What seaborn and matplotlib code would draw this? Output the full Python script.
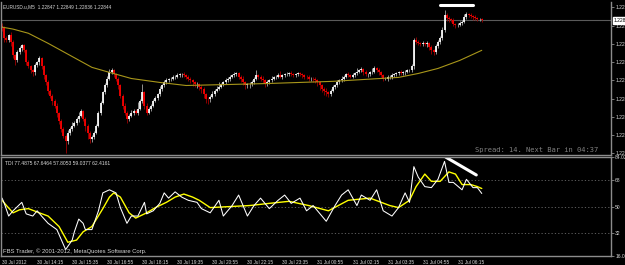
import matplotlib
matplotlib.use("Agg")
import matplotlib.pyplot as plt
import matplotlib.transforms as mtransforms
import numpy as np
import pandas as pd
import seaborn as sns

# ---------------- data (price in points above 1.22000) ----------------
price_base = 1.22
first_open_pts = 820
closes_pts = [
    808, 762, 753, 776, 744, 684, 661, 698, 716, 730,
    707, 652, 633, 615, 606, 638, 652, 670, 633, 592,
    560, 523, 500, 477, 454, 422, 385, 348, 316, 293,
    330, 348, 362, 376, 394, 408, 431, 394, 362, 330,
    302, 311, 330, 362, 422, 468, 514, 546, 578, 606,
    615, 597, 578, 546, 500, 454, 422, 394, 408, 422,
    431, 422, 440, 477, 514, 454, 422, 440, 454, 477,
    491, 505, 532, 546, 560, 569, 574, 578, 583, 587,
    592, 597, 597, 592, 587, 578, 569, 560, 551, 551,
    541, 532, 505, 486, 482, 495, 509, 523, 532, 541,
    551, 560, 569, 578, 587, 592, 597, 601, 587, 578,
    560, 546, 551, 555, 560, 578, 592, 587, 578, 569,
    555, 560, 569, 578, 583, 587, 592, 587, 592, 597,
    597, 601, 597, 592, 597, 601, 597, 592, 587, 583,
    578, 578, 574, 569, 560, 546, 532, 523, 514, 509,
    523, 537, 546, 560, 569, 578, 587, 597, 592, 587,
    592, 601, 610, 615, 620, 606, 597, 597, 606, 610,
    624, 615, 606, 592, 578, 578, 583, 587, 592, 597,
    601, 606, 601, 606, 610, 615, 615, 633, 753, 744,
    739, 735, 739, 735, 739, 721, 707, 698, 725, 744,
    762, 799, 868, 854, 849, 845, 826, 822, 822, 831,
    836, 859, 872, 868, 863, 859, 854, 849, 849, 845,
]
upper_wick_pts = [
    10, 8, 12, 6, 14, 8, 5, 12, 10, 6,
    8, 6, 10, 5, 8, 12, 6, 9, 5, 7,
    6, 9, 5, 8, 6, 10, 5, 7, 9, 6,
    12, 8, 15, 6, 10, 18, 8, 5, 9, 7,
    6, 8, 10, 7, 9, 6, 8, 12, 10, 14,
    10, 8, 6, 9, 5, 7, 10, 6, 8, 12,
    6, 9, 30, 8, 40, 6, 10, 8, 7, 9,
    8, 6, 10, 7, 9, 12, 6, 8, 10, 7,
    9, 6, 8, 12, 7, 5, 9, 6, 8, 10,
    6, 8, 5, 7, 9, 6, 10, 8, 12, 20,
    8, 6, 10, 7, 9, 5, 12, 8, 6, 7,
    10, 6, 8, 5, 9, 7, 25, 8, 6, 10,
    7, 9, 6, 10, 8, 5, 12, 20, 8, 6,
    9, 7, 10, 6, 8, 5, 9, 7, 6, 8,
    10, 6, 8, 9, 5, 7, 6, 8, 10, 6,
    8, 10, 6, 9, 7, 12, 8, 6, 10, 7,
    9, 6, 15, 8, 10, 7, 9, 6, 8, 18,
    10, 7, 9, 6, 8, 5, 10, 7, 9, 6,
    8, 6, 10, 7, 9, 5, 8, 12, 10, 15,
    12, 8, 10, 6, 9, 7, 8, 6, 10, 12,
    10, 15, 23, 8, 10, 6, 9, 7, 8, 10,
    8, 12, 10, 6, 9, 7, 8, 6, 5, 4,
]
lower_wick_pts = [
    12, 15, 8, 10, 18, 12, 20, 8, 10, 12,
    10, 14, 8, 12, 15, 10, 8, 12, 10, 14,
    12, 15, 10, 18, 12, 20, 14, 16, 12, 55,
    15, 10, 12, 8, 10, 14, 8, 12, 25, 30,
    20, 15, 10, 8, 6, 10, 8, 6, 9, 7,
    8, 10, 12, 15, 10, 14, 12, 20, 10, 8,
    12, 8, 10, 6, 9, 14, 10, 8, 12, 6,
    8, 10, 6, 9, 7, 8, 6, 9, 7, 8,
    6, 8, 10, 7, 9, 12, 10, 15, 12, 18,
    14, 20, 16, 18, 22, 10, 8, 9, 7, 6,
    8, 6, 9, 7, 10, 8, 6, 9, 12, 15,
    14, 18, 12, 15, 10, 8, 6, 9, 12, 10,
    14, 10, 8, 6, 9, 7, 8, 6, 9, 7,
    6, 8, 7, 9, 6, 8, 7, 10, 12, 9,
    10, 12, 14, 10, 15, 20, 18, 22, 16, 14,
    10, 8, 9, 7, 6, 8, 10, 7, 9, 8,
    7, 9, 6, 8, 7, 10, 8, 12, 9, 7,
    8, 6, 10, 9, 12, 8, 10, 7, 9, 6,
    8, 6, 9, 7, 10, 8, 6, 8, 12, 10,
    8, 10, 7, 9, 12, 14, 16, 12, 8, 6,
    8, 6, 10, 12, 14, 9, 10, 12, 8, 6,
    7, 6, 9, 8, 10, 12, 9, 8, 6, 7,
]
ma_idx = [0, 5, 12, 21, 31, 41, 49, 59, 72, 84, 105, 121, 136, 151, 166, 181, 190, 199, 209, 219]
ma_pts = [813, 804, 785, 739, 684, 629, 606, 578, 560, 546, 551, 555, 560, 565, 574, 583, 601, 624, 661, 707]

tdi_white_idx = [0, 1, 3, 5, 9, 11, 14, 16, 18, 21, 25, 29, 32, 33, 35, 37, 38, 41, 44, 46,
                 49, 52, 54, 57, 59, 62, 65, 66, 69, 72, 74, 76, 79, 82, 85, 89, 91, 95, 99, 101,
                 105, 108, 112, 115, 118, 122, 126, 129, 132, 136, 139, 142, 146, 148, 152, 155, 158, 162, 164, 168,
                 171, 174, 178, 181, 184, 186, 188, 190, 193, 196, 199, 202, 204, 206, 210, 212, 215, 217, 219]
tdi_white = [55.8, 52.2, 43.5, 47.1, 52.9, 45.0, 43.5, 47.1, 43.5, 38.5, 34.2, 20.5, 27.0, 32.7, 41.4, 38.5, 34.2, 34.2, 47.1, 59.4,
             61.5, 59.4, 49.3, 38.5, 43.5, 43.5, 52.9, 45.0, 47.1, 52.2, 59.4, 55.8, 60.1, 56.5, 54.3, 52.9, 48.6, 45.7, 54.3, 43.5,
             50.7, 57.9, 43.5, 50.7, 55.8, 48.6, 54.3, 57.9, 52.2, 55.8, 47.1, 50.7, 43.5, 39.9, 50.7, 57.9, 61.5, 50.7, 57.9, 54.3,
             61.5, 47.1, 43.5, 49.3, 59.4, 52.9, 77.4, 70.2, 63.7, 63.0, 68.7, 81.0, 66.6, 66.6, 61.5, 68.7, 63.0, 63.0, 59.0]
tdi_yellow_idx = [0, 2, 5, 8, 12, 17, 21, 26, 30, 34, 37, 41, 46, 49, 51, 54, 58, 61, 66, 70,
                  75, 79, 83, 87, 90, 95, 104, 113, 122, 131, 140, 149, 158, 168, 177, 181, 186, 189, 193, 196,
                  200, 204, 207, 210, 214, 217, 219]
tdi_yellow = [54.3, 50.7, 45.7, 47.8, 48.6, 45.7, 43.5, 36.3, 25.5, 27.0, 32.7, 36.3, 48.6, 56.5, 59.4, 56.5, 45.7, 42.1, 45.7, 49.3,
              52.9, 56.5, 58.6, 56.5, 54.3, 49.3, 50.0, 50.7, 52.2, 53.6, 50.7, 47.1, 54.3, 55.8, 50.7, 49.3, 54.3, 63.7, 72.3, 67.3,
              67.3, 73.8, 72.3, 65.1, 65.1, 63.7, 62.4]

price_trend_idx = [200, 215]
price_trend = [1.22914, 1.22914]
tdi_trend_idx = [202.5, 216.5]
tdi_trend = [84.0, 71.7]

current_price = 1.22844
price_ticks = [1.22905, 1.22820, 1.22735, 1.22655, 1.22570, 1.22485, 1.22400, 1.22320, 1.22235]
tdi_ticks = [84.0265, 68, 50, 32, 16.0718]
tdi_tick_labels = ["84.0265", "68", "50", "32", "16.0718"]
tdi_levels = [68, 50, 32]
time_idx = [0, 16, 32, 48, 64, 80, 96, 112, 128, 144, 160, 176, 192, 208]
time_labels = ["30 Jul 2012", "30 Jul 14:15", "30 Jul 15:35", "30 Jul 16:55", "30 Jul 18:15",
               "30 Jul 19:35", "30 Jul 20:55", "30 Jul 22:15", "30 Jul 23:35", "31 Jul 00:55",
               "31 Jul 02:15", "31 Jul 03:35", "31 Jul 04:55", "31 Jul 06:15"]
header_text = "EURUSD.u,M5  1.22847 1.22849 1.22836 1.22844"
tdi_text = "TDI 77.4875 67.6464 57.8053 59.0377 62.4161"
copyright_text = "FBS Trader, © 2001-2012, MetaQuotes Software Corp."
spread_text = "Spread: 14. Next Bar in 04:37"

# ---------------- build candle table ----------------
closes = np.array(closes_pts) / 1e5 + price_base
opens = np.concatenate([[first_open_pts / 1e5 + price_base], closes[:-1]])
highs = np.maximum(opens, closes) + np.array(upper_wick_pts) / 1e5
lows = np.minimum(opens, closes) - np.array(lower_wick_pts) / 1e5
idx = np.arange(len(closes))
candles = pd.DataFrame({"i": idx, "open": opens, "close": closes, "high": highs, "low": lows})
candles["bull"] = candles["close"] >= candles["open"]

ma_df = pd.DataFrame({"i": ma_idx, "ma": np.array(ma_pts) / 1e5 + price_base})
white_df = pd.DataFrame({"i": tdi_white_idx, "v": tdi_white})
yellow_df = pd.DataFrame({"i": tdi_yellow_idx, "v": tdi_yellow})

# ---------------- style ----------------
sns.set_style("dark", {"axes.facecolor": "black", "figure.facecolor": "black",
                       "axes.edgecolor": "#8c8c8c", "axes.grid": False})
plt.rcParams["font.family"] = ["Liberation Sans", "DejaVu Sans"]
txt_col = "#d8d8d8"
frame_col = "#8c8c8c"

fig = plt.figure(figsize=(6.25, 2.65), dpi=100, facecolor="black")
W, H = 625.0, 265.0
ax1 = fig.add_axes([1 / W, 1 - 155 / H, 610 / W, 153 / H])
ax2 = fig.add_axes([1 / W, 1 - 256 / H, 610 / W, 99 / H])
x_lo, x_hi = -0.5, 278.0
for ax in (ax1, ax2):
    ax.set_facecolor("black")
    ax.set_xlim(x_lo, x_hi)
    for s in ax.spines.values():
        s.set_color(frame_col)
        s.set_linewidth(1.0)
ax1.spines["top"].set_visible(False)

# ---------------- price panel ----------------
bull = candles[candles["bull"]]
bear = candles[~candles["bull"]]
ax1.vlines(bull["i"], bull["low"], bull["high"], colors="#a8a8a8", lw=0.6)
ax1.vlines(bear["i"], bear["low"], bear["high"], colors="#a00000", lw=0.6)
ax1.vlines(bull["i"], bull["open"], bull["close"], colors="#ffffff", lw=1.25)
ax1.vlines(bear["i"], bear["close"], bear["open"], colors="#ff0000", lw=1.25)
sns.lineplot(data=ma_df, x="i", y="ma", ax=ax1, color="#a8961a", lw=0.8)
ax1.axhline(current_price, color="#5a5a5a", lw=0.8, zorder=0)
sns.lineplot(x=price_trend_idx, y=price_trend, ax=ax1, color="white", lw=2.2)

ax1.set_ylim(1.22228, 1.22928)
ax1.yaxis.tick_right()
ax1.set_yticks(price_ticks)
ax1.set_yticklabels(["%.5f" % p for p in price_ticks])
ax1.tick_params(axis="y", colors=frame_col, labelcolor=txt_col, labelsize=3.6,
                length=2, width=0.6, pad=1, direction="out", right=True, left=False)
ax1.set_xticks([])
ax1.set_xlabel("")
ax1.set_ylabel("")
trans1 = mtransforms.blended_transform_factory(ax1.transAxes, ax1.transData)
ax1.text(1.004, current_price, "1.22844", transform=trans1, fontsize=3.6, color="black",
         va="center", ha="left", clip_on=False,
         bbox=dict(boxstyle="square,pad=0.15", fc="white", ec="white"), zorder=10)
ax1.text(0.004, 0.985, header_text, transform=ax1.transAxes, fontsize=3.4,
         color=txt_col, va="top", ha="left")
ax1.text(0.979, 0.012, spread_text, transform=ax1.transAxes, fontsize=5.1,
         family="DejaVu Sans Mono", color="#808080", va="bottom", ha="right")

# ---------------- TDI panel ----------------
for lv in tdi_levels:
    ax2.axhline(lv, color="#6a6a6a", lw=0.6, ls=(0, (1.5, 2.5)), zorder=0)
sns.lineplot(data=yellow_df, x="i", y="v", ax=ax2, color="#ffff00", lw=1.0)
sns.lineplot(data=white_df, x="i", y="v", ax=ax2, color="#ffffff", lw=0.75)
sns.lineplot(x=tdi_trend_idx, y=tdi_trend, ax=ax2, color="white", lw=2.2)
ax2.set_ylim(tdi_ticks[-1], tdi_ticks[0])
ax2.yaxis.tick_right()
ax2.set_yticks(tdi_ticks)
ax2.set_yticklabels(tdi_tick_labels)
ax2.tick_params(axis="y", colors=frame_col, labelcolor=txt_col, labelsize=3.6,
                length=2, width=0.6, pad=1, right=True, left=False)
ax2.set_xticks(time_idx)
ax2.set_xticklabels(time_labels, ha="left")
ax2.tick_params(axis="x", colors=frame_col, labelcolor=txt_col, labelsize=3.4,
                length=2, width=0.6, pad=1)
ax2.set_xlabel("")
ax2.set_ylabel("")
ax2.text(0.006, 0.96, tdi_text, transform=ax2.transAxes, fontsize=3.6,
         color=txt_col, va="top", ha="left")
ax2.text(0.004, 0.02, copyright_text, transform=ax2.transAxes, fontsize=4.2,
         color=txt_col, va="bottom", ha="left")

fig.savefig("out.png", dpi=100, facecolor="black")
